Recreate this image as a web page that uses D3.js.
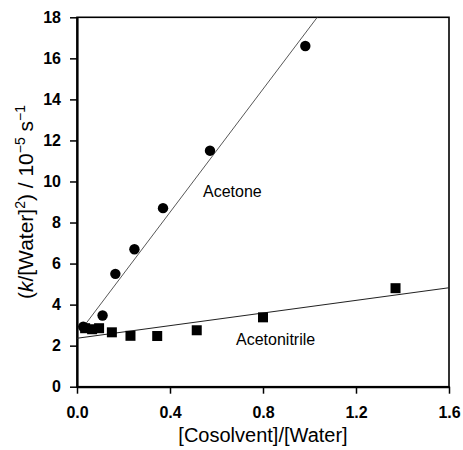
<!DOCTYPE html>
<html>
<head>
<meta charset="utf-8">
<script src="https://cdn.jsdelivr.net/npm/d3@7"></script>
<style>
  html, body { margin: 0; padding: 0; background: #fff; }
  svg { display: block; font-family: "Liberation Sans", Arial, Helvetica, sans-serif; }
</style>
</head>
<body>
<div id="chart"></div>
<script>
// ---- data ----
const acetoneX = [0.027, 0.11, 0.165, 0.247, 0.37, 0.572, 0.982];
const acetoneY = [2.92, 3.47, 5.5, 6.7, 8.7, 11.5, 16.6];

const acetonitrileX = [0.035, 0.065, 0.095, 0.15, 0.23, 0.345, 0.515, 0.80, 1.37];
const acetonitrileY = [2.85, 2.8, 2.85, 2.65, 2.48, 2.47, 2.75, 3.38, 4.8];

// linear fits: [intercept, slope, xStart, xEnd]
const acetoneFit = [2.5, 15.0, 0.04, 1.6];
const acetonitrileFit = [2.36, 1.54, 0.0, 1.6];

const xTicks = [0.0, 0.4, 0.8, 1.2, 1.6];
const yTicks = [0, 2, 4, 6, 8, 10, 12, 14, 16, 18];

const seriesLabels = ["Acetone", "Acetonitrile"];
const labelAnchors = [[0.542, 9.24], [0.684, 2.03]];

const xTitle = "[Cosolvent]/[Water]";

// ---- layout ----
const W = 463, H = 450;
const margin = { left: 77, right: 14, top: 17.3, bottom: 63.3 };
const iw = W - margin.left - margin.right;
const ih = H - margin.top - margin.bottom;

const svg = d3.select("#chart").append("svg")
  .attr("width", W).attr("height", H);

const g = svg.append("g").attr("transform", `translate(${margin.left},${margin.top})`);

const x = d3.scaleLinear().domain([0, 1.6]).range([0, iw]);
const y = d3.scaleLinear().domain([0, 18]).range([ih, 0]);

svg.append("defs").append("clipPath").attr("id", "plotclip")
  .append("rect").attr("x", 0).attr("y", 0).attr("width", iw).attr("height", ih);

// frame (top & right)
g.append("rect")
  .attr("x", 0).attr("y", 0).attr("width", iw).attr("height", ih)
  .attr("fill", "none").attr("stroke", "#000").attr("stroke-width", 1.6);

// axes
const xAxis = d3.axisBottom(x).tickValues(xTicks).tickFormat(d3.format(".1f"))
  .tickSize(7).tickSizeOuter(0).tickPadding(13);
const yAxis = d3.axisLeft(y).tickValues(yTicks).tickFormat(d3.format("d"))
  .tickSize(7).tickSizeOuter(0).tickPadding(9);

const gx = g.append("g").attr("transform", `translate(0,${ih})`).call(xAxis);
const gy = g.append("g").call(yAxis);

[gx, gy].forEach(a => {
  a.select(".domain").attr("stroke", "#000").attr("stroke-width", 2.2);
  a.selectAll(".tick line").attr("stroke", "#000").attr("stroke-width", 1.5);
  a.selectAll(".tick text")
    .attr("fill", "#000")
    .style("font-size", "16px")
    .style("font-weight", "bold")
    .style("font-family", '"Liberation Sans", Arial, Helvetica, sans-serif');
});

// fit lines
const plot = g.append("g").attr("clip-path", "url(#plotclip)");
const line = d3.line().x(d => x(d[0])).y(d => y(d[1]));
function fitPts(f) { return [[f[2], f[0] + f[1] * f[2]], [f[3], f[0] + f[1] * f[3]]]; }

plot.append("path").datum(fitPts(acetoneFit))
  .attr("d", line).attr("fill", "none").attr("stroke", "#444").attr("stroke-width", 0.9);
plot.append("path").datum(fitPts(acetonitrileFit))
  .attr("d", line).attr("fill", "none").attr("stroke", "#222").attr("stroke-width", 1.1);

// markers
const acetone = acetoneX.map((v, i) => [v, acetoneY[i]]);
const acetonitrile = acetonitrileX.map((v, i) => [v, acetonitrileY[i]]);

const sq = 10;
g.append("g").selectAll("rect").data(acetonitrile).join("rect")
  .attr("x", d => x(d[0]) - sq / 2).attr("y", d => y(d[1]) - sq / 2)
  .attr("width", sq).attr("height", sq).attr("fill", "#000");

g.append("g").selectAll("circle").data(acetone).join("circle")
  .attr("cx", d => x(d[0])).attr("cy", d => y(d[1])).attr("r", 5.2).attr("fill", "#000");

// series labels
g.append("g").selectAll("text").data(seriesLabels).join("text")
  .attr("x", (d, i) => x(labelAnchors[i][0]))
  .attr("y", (d, i) => y(labelAnchors[i][1]))
  .style("font-size", "16px")
  .attr("fill", "#000")
  .text(d => d);

// x title
svg.append("text")
  .attr("x", margin.left + iw / 2).attr("y", 442)
  .attr("text-anchor", "middle")
  .style("font-size", "20px")
  .attr("fill", "#000")
  .text(xTitle);

// y title
const yt = svg.append("text")
  .attr("transform", `translate(33,${margin.top + ih / 2}) rotate(-90)`)
  .attr("text-anchor", "middle")
  .style("font-size", "21px")
  .attr("fill", "#000");
yt.append("tspan").text("(");
yt.append("tspan").style("font-style", "italic").text("k");
yt.append("tspan").text("/[Water]");
yt.append("tspan").attr("dy", -8).style("font-size", "14px").text("2");
yt.append("tspan").attr("dy", 8).text(") / 10");
yt.append("tspan").attr("dy", -8).style("font-size", "14px").text("\u22125");
yt.append("tspan").attr("dy", 8).text(" s");
yt.append("tspan").attr("dy", -8).style("font-size", "14px").text("\u22121");
</script>
</body>
</html>
